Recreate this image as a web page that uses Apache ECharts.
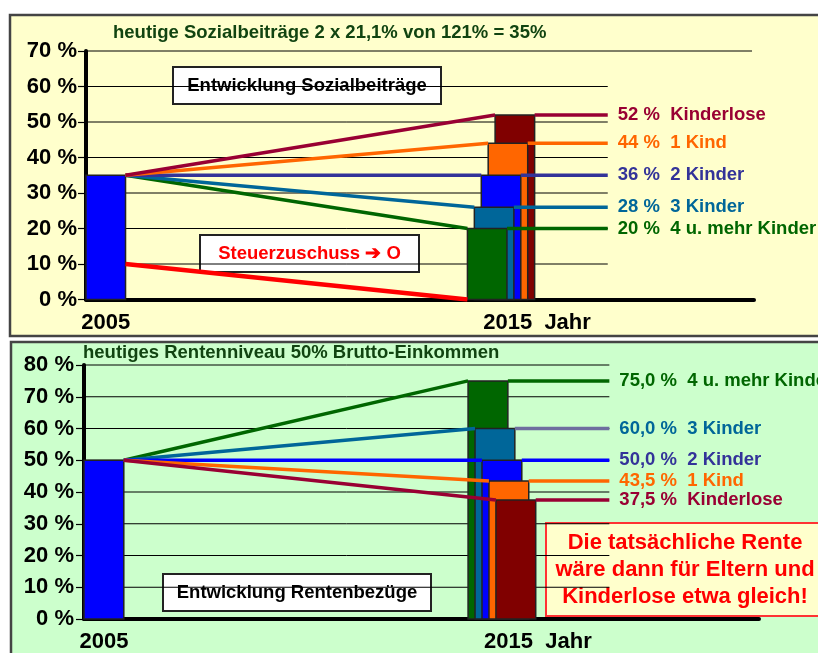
<!DOCTYPE html>
<html><head><meta charset="utf-8">
<script src="https://cdn.jsdelivr.net/npm/echarts@6/dist/echarts.min.js"></script>
<style>html,body{margin:0;padding:0;background:#fff}#c{width:818px;height:653px}</style>
</head><body><div id="c"></div>
<script>
const FONT = '"Liberation Sans", Arial, Helvetica, sans-serif';

// ---------- shared ----------
const years = [2005, 2015];
const groups = ['4 u. mehr Kinder', '3 Kinder', '2 Kinder', '1 Kind', 'Kinderlose'];
const barColors = ['#006600', '#006699', '#0000FF', '#FF6600', '#800000'];
const color2005 = '#0000FF';

// ---------- top panel: Sozialbeiträge ----------
const topTicks = [0, 10, 20, 30, 40, 50, 60, 70];
const topValue2005 = 35;
const topValues2015 = [20, 26, 35, 44, 52];
const topLabelTexts = ['20 %  4 u. mehr Kinder', '28 %  3 Kinder', '36 %  2 Kinder', '44 %  1 Kind', '52 %  Kinderlose'];
const topLineColors = ['#006600', '#006699', '#333399', '#FF6600', '#990033'];
const steuerValues = [10, 0];   // 2005 -> 2015

// ---------- bottom panel: Renten ----------
const botTicks = [0, 10, 20, 30, 40, 50, 60, 70, 80];
const botValue2005 = 50;
const botValues2015 = [75, 60, 50, 43.5, 37.5];
const botLabelTexts = ['75,0 %  4 u. mehr Kinder', '60,0 %  3 Kinder', '50,0 %  2 Kinder', '43,5 %  1 Kind', '37,5 %  Kinderlose'];
const botLineColors = ['#006600', '#006699', '#0000FF', '#FF6600', '#990033'];
const botTailColors = ['#006600', '#6E6E9E', '#0000FF', '#FF6600', '#990033'];
const botLabelColors = ['#006600', '#006699', '#333399', '#FF6600', '#990033'];

// ---------- geometry (in axis units = years) ----------
const X_MIN = 2004.5;
const X_MAX_TOP = 2021.4, X_MAX_BOT = 2021.46;
const BAR_W = 1.0, STEP = 0.175, TAIL_X = 2017.7;
const xCenter = i => years[1] + (i - 2) * STEP;

function panelSeries(gi, v2005, values, lineColors, tailColors, labelColors, labelTexts, ticks, xMax) {
  const s = [];
  // grid lines
  s.push({
    type: 'custom', xAxisIndex: gi, yAxisIndex: gi, z: 1, silent: true, clip: false,
    encode: { y: 0, x: 1 },
    renderItem(p, api) {
      const v = api.value(0), end = api.value(1);
      const a = api.coord([X_MIN, v]), b = api.coord([end, v]);
      return { type: 'line', shape: { x1: a[0], y1: a[1], x2: b[0], y2: b[1] }, style: { stroke: '#000', lineWidth: 1 } };
    },
    data: ticks.filter(t => t > 0).map(t => [t, (gi === 0 && t === ticks[ticks.length - 1]) ? xMax - 0.05 : TAIL_X])
  });
  // bars
  const order = values.map((v, i) => i).sort((a, b) => values[b] - values[a]);
  const barData = [[years[0], v2005, -1]].concat(order.map(i => [xCenter(i), values[i], i]));
  s.push({
    type: 'custom', xAxisIndex: gi, yAxisIndex: gi, z: 3, silent: true,
    renderItem(p, api) {
      const xc = api.value(0), v = api.value(1), ci = api.value(2);
      const a = api.coord([xc - BAR_W / 2, v]), b = api.coord([xc + BAR_W / 2, 0]);
      return { type: 'rect', shape: { x: a[0], y: a[1], width: b[0] - a[0], height: b[1] - a[1] },
        style: { fill: ci < 0 ? color2005 : barColors[ci], stroke: '#222', lineWidth: 1.5 } };
    },
    data: barData
  });
  // lines
  values.forEach((v, i) => {
    s.push({
      type: 'line', xAxisIndex: gi, yAxisIndex: gi, z: 5, silent: true, symbol: 'none',
      lineStyle: { color: lineColors[i], width: 3.5 },
      data: [[years[0] + BAR_W / 2, v2005], [xCenter(i) - BAR_W / 2, v]]
    });
    s.push({
      type: 'line', xAxisIndex: gi, yAxisIndex: gi, z: 5, silent: true, symbol: 'none',
      lineStyle: { color: tailColors[i], width: 3.5 },
      data: [[xCenter(i) + BAR_W / 2, v], [TAIL_X, v]],
      endLabel: { show: true, formatter: labelTexts[i], color: labelColors[i], fontFamily: FONT,
        fontWeight: 'bold', fontSize: 18.5, distance: 10 }
    });
  });
  return s;
}

const series = []
  .concat(panelSeries(0, topValue2005, topValues2015, topLineColors, topLineColors, topLineColors, topLabelTexts, topTicks, X_MAX_TOP))
  .concat(panelSeries(1, botValue2005, botValues2015, botLineColors, botTailColors, botLabelColors, botLabelTexts, botTicks, X_MAX_BOT));

// Steuerzuschuss line
series.push({
  type: 'line', xAxisIndex: 0, yAxisIndex: 0, z: 4, silent: true, symbol: 'none',
  lineStyle: { color: '#FF0000', width: 4.5 },
  data: [[years[0] + BAR_W / 2, steuerValues[0]], [xCenter(0) - BAR_W / 2, steuerValues[1]]]
});

function xAxisCfg(gi, xMax) {
  return {
    type: 'value', gridIndex: gi, min: X_MIN, max: xMax,
    axisLine: { show: true, onZero: false, lineStyle: { color: '#000', width: 4 } },
    axisTick: { show: false }, splitLine: { show: false },
    axisLabel: {
      customValues: years, margin: 12,
      formatter: v => v === years[0] ? '{a|' + years[0] + '}' : '{b|' + years[1] + '  Jahr}',
      rich: {
        a: { fontFamily: FONT, fontWeight: 'bold', fontSize: 22, color: '#000' },
        b: { fontFamily: FONT, fontWeight: 'bold', fontSize: 22, color: '#000', padding: [0, 0, 0, 72] }
      }
    }
  };
}
function yAxisCfg(gi, ticks, margin) {
  return {
    type: 'value', gridIndex: gi, min: ticks[0], max: ticks[ticks.length - 1], interval: 10,
    axisLine: { show: true, lineStyle: { color: '#000', width: 4 } },
    axisTick: { show: true, length: 8, lineStyle: { color: '#000', width: 1.2 } },
    splitLine: { show: false },
    axisLabel: { formatter: '{value} %', fontFamily: FONT, fontWeight: 'bold', fontSize: 22, color: '#000', margin: margin }
  };
}

const boxText = (x, y, w, h, text, color, size) => ({
  type: 'group', z: 100, children: [
    { type: 'rect', shape: { x: x, y: y, width: w, height: h }, style: { fill: '#fff', stroke: '#222', lineWidth: 2 } },
    { type: 'text', x: x + w / 2, y: y + h / 2, style: { text: text, fill: color, font: 'bold ' + size + 'px ' + FONT, align: 'center', verticalAlign: 'middle' } }
  ]
});

const option = {
  backgroundColor: '#ffffff',
  animation: false,
  grid: [
    { left: 86, top: 51, width: 668, height: 248.5 },
    { left: 84, top: 365, width: 675, height: 256 }
  ],
  xAxis: [xAxisCfg(0, X_MAX_TOP), xAxisCfg(1, X_MAX_BOT)],
  yAxis: [yAxisCfg(0, topTicks, 9), yAxisCfg(1, botTicks, 10)],
  graphic: [
    { type: 'rect', z: -100, shape: { x: 10, y: 15, width: 840, height: 321 }, style: { fill: '#FFFFCC', stroke: '#444', lineWidth: 2.5 } },
    { type: 'rect', z: -100, shape: { x: 11, y: 342, width: 840, height: 330 }, style: { fill: '#CCFFCC', stroke: '#444', lineWidth: 2.5 } },
    { type: 'text', z: 100, x: 113, y: 33, style: { text: 'heutige Sozialbeiträge 2 x 21,1% von 121% = 35%', fill: '#114411', font: 'bold 18.5px ' + FONT, verticalAlign: 'middle' } },
    { type: 'text', z: 100, x: 83, y: 353, style: { text: 'heutiges Rentenniveau 50% Brutto-Einkommen', fill: '#114411', font: 'bold 18.5px ' + FONT, verticalAlign: 'middle' } },
    boxText(173, 67, 268, 37, 'Entwicklung Sozialbeiträge', '#000', 18.5),
    boxText(200, 235, 219, 37, 'Steuerzuschuss \u2794 O', '#FF0000', 18.5),
    boxText(163, 574, 268, 37, 'Entwicklung Rentenbezüge', '#000', 18.5),
    { type: 'group', z: 100, children: [
      { type: 'rect', shape: { x: 546, y: 523, width: 300, height: 93 }, style: { fill: '#FFFFCC', stroke: '#FF3333', lineWidth: 2 } },
      { type: 'text', x: 685, y: 569.5, style: { text: 'Die tatsächliche Rente\nwäre dann für Eltern und\nKinderlose etwa gleich!', fill: '#FF0000', font: 'bold 22px ' + FONT, align: 'center', verticalAlign: 'middle', lineHeight: 27 } }
    ] }
  ],
  series: series
};
const chart = echarts.init(document.getElementById('c'), null, { renderer: 'canvas' });
chart.setOption(option);
</script></body></html>
